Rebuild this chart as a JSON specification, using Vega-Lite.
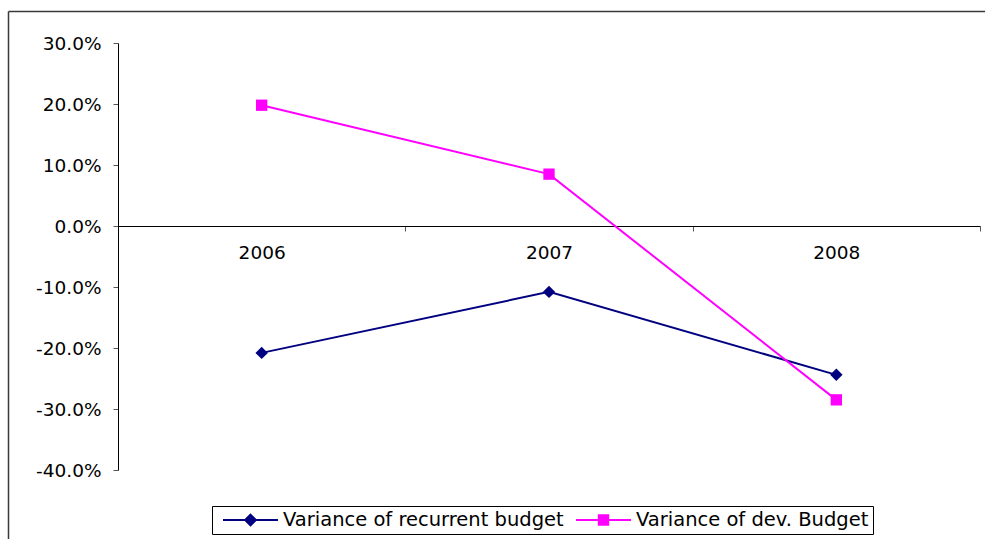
{
  "$schema": "https://vega.github.io/schema/vega-lite/v6.json",
  "width": 977,
  "height": 528,
  "autosize": {"type": "none"},
  "padding": {"left": 8, "top": 11, "right": 0, "bottom": 0},
  "background": "white",
  "config": {
    "font": "DejaVu Sans",
    "view": {"stroke": null}
  },
  "data": {
    "values": [
      {"year": "2006", "series": "Variance of recurrent budget", "value": -0.208},
      {"year": "2007", "series": "Variance of recurrent budget", "value": -0.108},
      {"year": "2008", "series": "Variance of recurrent budget", "value": -0.244},
      {"year": "2006", "series": "Variance of dev. Budget", "value": 0.198},
      {"year": "2007", "series": "Variance of dev. Budget", "value": 0.085},
      {"year": "2008", "series": "Variance of dev. Budget", "value": -0.285}
    ]
  },
  "layer": [
    {
      "encoding": {
        "x": {
          "field": "year",
          "type": "ordinal",
          "scale": {"type": "band", "range": [110, 972], "paddingInner": 0, "paddingOuter": 0},
          "axis": {
            "title": null,
            "orient": "bottom",
            "offset": -313,
            "tickBand": "extent",
            "domainColor": "#000000",
            "domainWidth": 1,
            "tickColor": "#555555",
            "tickSize": 5,
            "tickWidth": 1,
            "labelAngle": 0,
            "labelFont": "DejaVu Sans",
            "labelFontSize": 18.5,
            "labelColor": "#000000",
            "labelPadding": 12,
            "grid": false
          }
        },
        "y": {
          "field": "value",
          "type": "quantitative",
          "scale": {"domain": [-0.4, 0.3], "range": [459, 32], "nice": false, "zero": false},
          "axis": {
            "title": null,
            "orient": "left",
            "offset": -110,
            "values": [-0.4, -0.3, -0.2, -0.1, 0, 0.1, 0.2, 0.3],
            "labelExpr": "replace(format(datum.value, '.1%'), '\u2212', '-')",
            "domainColor": "#000000",
            "domainWidth": 1,
            "tickColor": "#555555",
            "tickSize": 5,
            "tickWidth": 1,
            "labelFont": "DejaVu Sans",
            "labelFontSize": 18.5,
            "labelColor": "#000000",
            "labelPadding": 12,
            "grid": false
          }
        },
        "color": {
          "field": "series",
          "type": "nominal",
          "scale": {"domain": ["Variance of recurrent budget", "Variance of dev. Budget"], "range": ["#000080", "#FF00FF"]},
          "legend": {
            "title": null, "orient": "none", "legendX": 204, "legendY": 495, "direction": "horizontal",
            "strokeColor": "#000000", "fillColor": "#FFFFFF", "padding": 4,
            "labelFont": "DejaVu Sans", "labelFontSize": 19.5, "labelColor": "#000000", "labelLimit": 0,
            "symbolSize": 4489, "symbolStrokeWidth": 2, "clipHeight": 20,
            "labelOffset": -2, "columnPadding": 5,
            "encode": {
              "symbols": {
                "update": {
                  "shape": {"signal": "datum.value === 'Variance of recurrent budget' ? 'M-0.82,0H0.82M0,-0.16L0.16,0L0,0.16L-0.16,0Z' : 'M-0.82,0H0.82M-0.14,-0.14H0.14V0.14H-0.14Z'"},
                  "fill": {"scale": "color", "field": "value"},
                  "stroke": {"scale": "color", "field": "value"},
                  "strokeWidth": {"value": 2},
                  "opacity": {"value": 1}
                }
              }
            }
          }
        }
      },
      "layer": [
        {"mark": {"type": "line", "strokeWidth": 2}},
        {
          "transform": [{"filter": "datum.series === 'Variance of recurrent budget'"}],
          "mark": {"type": "point", "shape": "diamond", "filled": true, "size": 155, "opacity": 1}
        },
        {
          "transform": [{"filter": "datum.series === 'Variance of dev. Budget'"}],
          "mark": {"type": "point", "shape": "square", "filled": true, "size": 128, "opacity": 1}
        }
      ]
    },
    {
      "mark": {"type": "point", "opacity": 0},
      "encoding": {
        "x": {
          "field": "year",
          "type": "ordinal",
          "scale": {"type": "band"},
          "axis": {"orient": "top", "title": null, "domain": true, "domainColor": "#3a3a3a", "domainWidth": 1.5, "ticks": false, "labels": false, "grid": false}
        },
        "y": {
          "field": "value",
          "type": "quantitative",
          "axis": {"orient": "left", "title": null, "domain": true, "domainColor": "#3a3a3a", "domainWidth": 1.5, "ticks": false, "labels": false, "grid": false}
        }
      }
    }
  ],
  "resolve": {
    "scale": {"x": "independent", "y": "independent"},
    "axis": {"x": "independent", "y": "independent"}
  }
}
